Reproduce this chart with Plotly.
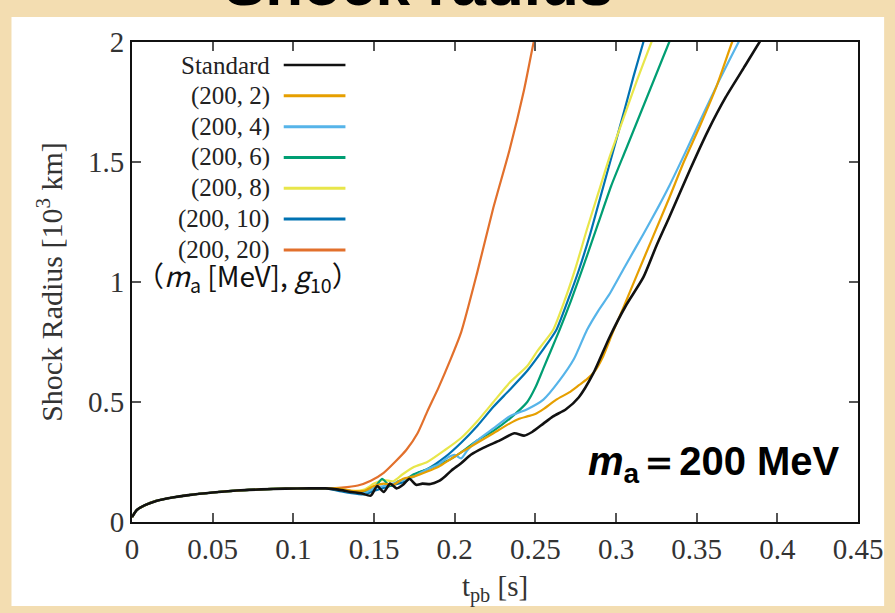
import plotly.graph_objects as go

# ---- data: shock radius [10^3 km] vs post-bounce time [s] ----
# common early expansion shared by all models
t_early = [0.0, 0.003, 0.008, 0.015, 0.025, 0.035, 0.05, 0.065, 0.08, 0.095, 0.11, 0.12]
r_early = [0.02, 0.05, 0.07, 0.088, 0.102, 0.112, 0.123, 0.131, 0.136, 0.139, 0.14, 0.14]

t_std = [0.128, 0.136, 0.142, 0.148, 0.152, 0.156, 0.16, 0.164, 0.168, 0.172, 0.176, 0.18,
         0.185, 0.19, 0.194, 0.198, 0.204, 0.21, 0.218, 0.228, 0.237, 0.243, 0.248, 0.255,
         0.261, 0.269, 0.277, 0.286, 0.296, 0.306, 0.317, 0.325, 0.333, 0.346, 0.357, 0.368,
         0.379, 0.389, 0.392]
r_std = [0.135, 0.125, 0.12, 0.11, 0.15, 0.125, 0.16, 0.14, 0.155, 0.18, 0.155, 0.16,
         0.158, 0.17, 0.19, 0.215, 0.245, 0.28, 0.31, 0.34, 0.37, 0.36, 0.375, 0.41,
         0.44, 0.47, 0.52, 0.62, 0.77, 0.9, 1.02, 1.15, 1.27, 1.47, 1.63, 1.77,
         1.89, 2.0, 2.03]

t_g2 = [0.128, 0.136, 0.144, 0.15, 0.156, 0.162, 0.168, 0.175, 0.183, 0.19, 0.197, 0.204,
        0.214, 0.224, 0.234, 0.24, 0.245, 0.25, 0.255, 0.263, 0.271, 0.277, 0.282, 0.287,
        0.292, 0.298, 0.305, 0.313, 0.323, 0.333, 0.342, 0.352, 0.362, 0.372, 0.375]
r_g2 = [0.14, 0.13, 0.13, 0.15, 0.16, 0.155, 0.18, 0.19, 0.21, 0.23, 0.26, 0.29,
        0.33, 0.37, 0.41, 0.43, 0.44, 0.45, 0.47, 0.51, 0.54, 0.57, 0.595, 0.63,
        0.69, 0.79, 0.9, 1.03, 1.19, 1.35, 1.5, 1.65, 1.81, 2.0, 2.05]

t_g4 = [0.128, 0.136, 0.144, 0.15, 0.156, 0.162, 0.168, 0.175, 0.183, 0.19, 0.196, 0.2,
        0.204, 0.208, 0.214, 0.224, 0.234, 0.245, 0.255, 0.265, 0.274, 0.282, 0.289, 0.296,
        0.306, 0.317, 0.326, 0.333, 0.343, 0.352, 0.364, 0.376, 0.379]
r_g4 = [0.135, 0.125, 0.12, 0.14, 0.15, 0.16, 0.175, 0.19, 0.22, 0.24, 0.27, 0.28,
        0.265, 0.3, 0.34, 0.39, 0.44, 0.47, 0.51, 0.59, 0.68, 0.8, 0.88, 0.95,
        1.07, 1.2, 1.31, 1.4, 1.54, 1.67, 1.84, 2.0, 2.04]

t_g6 = [0.128, 0.136, 0.144, 0.15, 0.155, 0.16, 0.165, 0.17, 0.175, 0.183, 0.19, 0.197,
        0.204, 0.214, 0.224, 0.234, 0.245, 0.25, 0.255, 0.26, 0.265, 0.272, 0.28, 0.289,
        0.297, 0.306, 0.315, 0.324, 0.333, 0.336]
r_g6 = [0.135, 0.125, 0.125, 0.14, 0.18, 0.15, 0.17, 0.18, 0.2, 0.22, 0.24, 0.26,
        0.29, 0.34, 0.38, 0.43, 0.5, 0.56, 0.64, 0.72, 0.8, 0.92, 1.07, 1.245,
        1.4, 1.55, 1.7, 1.85, 2.0, 2.05]

t_g8 = [0.128, 0.136, 0.144, 0.15, 0.156, 0.162, 0.168, 0.175, 0.183, 0.194, 0.204, 0.214,
        0.224, 0.234, 0.245, 0.251, 0.255, 0.261, 0.268, 0.275, 0.282, 0.289, 0.296, 0.304,
        0.313, 0.322, 0.325]
r_g8 = [0.138, 0.13, 0.135, 0.16, 0.175, 0.17, 0.2, 0.23, 0.25, 0.3, 0.35, 0.42,
        0.5, 0.58, 0.65, 0.71, 0.745, 0.8, 0.92, 1.06, 1.22, 1.37, 1.52, 1.67,
        1.84, 2.0, 2.05]

t_g10 = [0.128, 0.136, 0.144, 0.15, 0.155, 0.16, 0.165, 0.17, 0.176, 0.183, 0.194, 0.204,
         0.214, 0.224, 0.234, 0.245, 0.255, 0.263, 0.27, 0.277, 0.284, 0.291, 0.298, 0.305,
         0.311, 0.317, 0.32]
r_g10 = [0.13, 0.12, 0.115, 0.13, 0.14, 0.15, 0.16, 0.17, 0.2, 0.22, 0.27, 0.33,
         0.4, 0.48, 0.55, 0.63, 0.72, 0.8, 0.92, 1.05, 1.2, 1.37, 1.54, 1.71,
         1.86, 2.0, 2.07]

t_g20 = [0.13, 0.14, 0.148, 0.156, 0.163, 0.17, 0.177, 0.183, 0.19, 0.197, 0.204, 0.214,
         0.224, 0.234, 0.243, 0.249, 0.252]
r_g20 = [0.143, 0.152, 0.172, 0.205, 0.25, 0.3, 0.37, 0.46, 0.56, 0.67, 0.79, 1.04,
         1.31, 1.55, 1.8, 2.0, 2.08]

labels = ["Standard", "(200, 2)", "(200, 4)", "(200, 6)", "(200, 8)", "(200, 10)", "(200, 20)"]
times = [t_std, t_g2, t_g4, t_g6, t_g8, t_g10, t_g20]
radii = [r_std, r_g2, r_g4, r_g6, r_g8, r_g10, r_g20]
colors = ["#111111", "#E69F00", "#56B4E9", "#009E73", "#E8E64A", "#0072B2", "#E2702C"]
widths = [2.6, 2.2, 2.2, 2.2, 2.2, 2.2, 2.2]

x_ticks = [0, 0.05, 0.1, 0.15, 0.2, 0.25, 0.3, 0.35, 0.4, 0.45]
x_ticktext = ["0", "0.05", "0.1", "0.15", "0.2", "0.25", "0.3", "0.35", "0.4", "0.45"]
y_ticks = [0, 0.5, 1, 1.5, 2]
y_ticktext = ["0", "0.5", "1", "1.5", "2"]

SERIF = "Liberation Serif"
SANS = "Liberation Sans"

fig = go.Figure()

# draw from last to first so the standard run stays on top where curves overlap
for i in reversed(range(len(labels))):
    fig.add_trace(go.Scatter(
        x=t_early + times[i], y=r_early + radii[i], mode="lines", name=labels[i],
        line=dict(color=colors[i], width=widths[i], shape="spline", smoothing=0.6),
        showlegend=False,
    ))

# hand-built key: right-aligned label followed by a short line sample
key_text_x = 0.193
key_line_x0, key_line_x1 = 0.209, 0.294
key_top, key_step = 0.952, 0.0642
shapes = []
annotations = []
for i, lab in enumerate(labels):
    yy = key_top - i * key_step
    annotations.append(dict(
        x=key_text_x, y=yy, xref="paper", yref="paper", text=lab, showarrow=False,
        xanchor="right", yanchor="middle", font=dict(family=SERIF, size=25, color="#222")))
    shapes.append(dict(
        type="line", xref="paper", yref="paper", x0=key_line_x0, x1=key_line_x1,
        y0=yy, y1=yy, line=dict(color=colors[i], width=2.6 if i == 0 else 3)))

annotations.append(dict(
    x=0.003, y=0.51, xref="paper", yref="paper", showarrow=False,
    xanchor="left", yanchor="middle",
    text="（<i>m</i><sub>a</sub> [MeV], <i>g</i><sub>10</sub>）",
    font=dict(family="Noto Sans CJK JP", size=28, color="#111")))

annotations.append(dict(
    x=0.978, y=0.12, xref="paper", yref="paper", showarrow=False,
    xanchor="right", yanchor="middle",
    text="<b><i>m</i><sub>a</sub>＝200 MeV</b>",
    font=dict(family=SANS, size=40, color="#000")))

# heading above the panel, partly cut by the top edge
annotations.append(dict(
    x=0.395, y=1.122, xref="paper", yref="paper", showarrow=False,
    xanchor="center", yanchor="middle", text="<b>Shock radius</b>",
    font=dict(family=SANS, size=62, color="#000")))

# white card behind the axes on the parchment backdrop
shapes.insert(0, dict(
    type="rect", xref="paper", yref="paper", layer="below",
    x0=-0.166, x1=1.036, y0=-0.175, y1=1.052,
    fillcolor="white", line=dict(width=0)))

axis_common = dict(
    showgrid=False, zeroline=False, showline=True, linecolor="#111", linewidth=2,
    mirror="ticks", ticks="inside", ticklen=9, tickwidth=1.5, tickcolor="#555",
    tickfont=dict(family=SERIF, size=29, color="#333"),
)

fig.update_xaxes(
    range=[0, 0.45], tickmode="array", tickvals=x_ticks, ticktext=x_ticktext,
    title=dict(text="t<sub>pb</sub> [s]", font=dict(family=SERIF, size=29, color="#333"),
               standoff=12),
    **axis_common)
fig.update_yaxes(
    range=[0, 2], tickmode="array", tickvals=y_ticks, ticktext=y_ticktext,
    title=dict(text="Shock Radius [10<sup>3</sup> km]",
               font=dict(family=SERIF, size=30, color="#333"), standoff=16),
    **axis_common)

fig.update_layout(
    width=895, height=613,
    margin=dict(l=132, r=32, t=42, b=91),
    paper_bgcolor="#F3DDB1", plot_bgcolor="white",
    shapes=shapes, annotations=annotations,
    showlegend=False,
)

fig.write_html("out.html")
